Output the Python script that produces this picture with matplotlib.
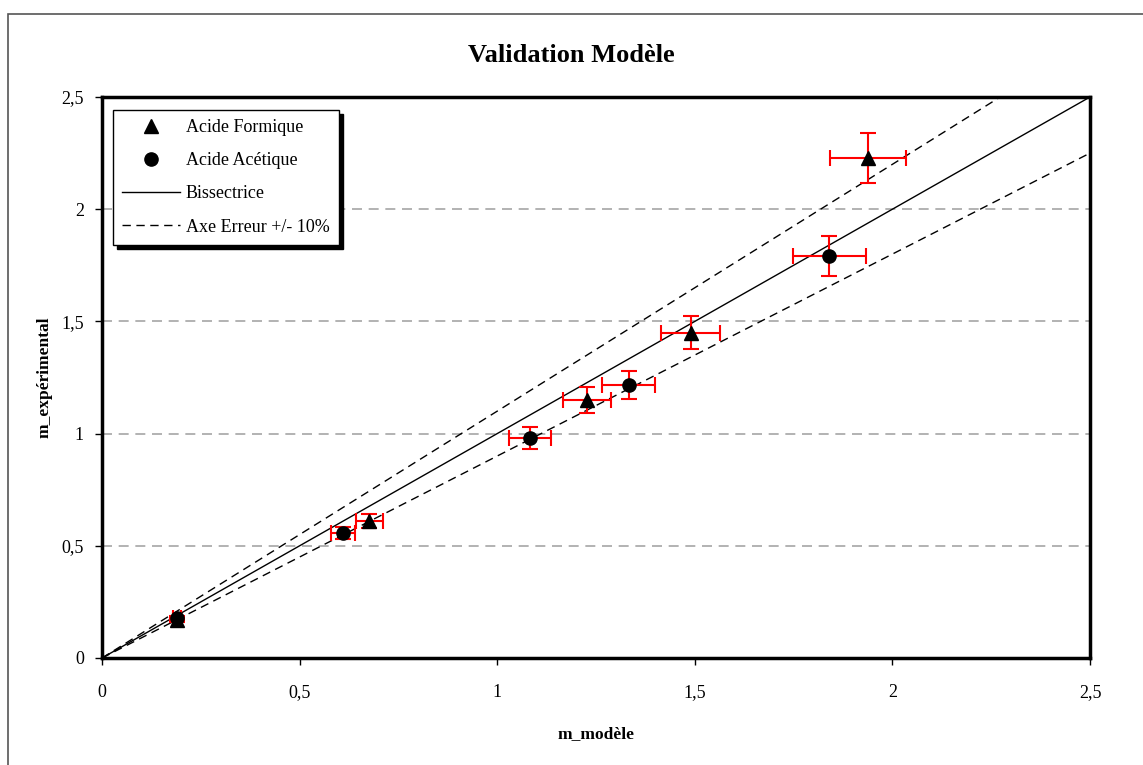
import numpy as np
import matplotlib
matplotlib.use('Agg')
import matplotlib.pyplot as plt
from matplotlib.patches import Rectangle

plt.rcParams['font.family'] = ['Liberation Serif', 'DejaVu Serif']

# data
m_mod_formique = [0.19, 0.676, 1.227, 1.49, 1.938]
m_exp_formique = [0.17, 0.61, 1.15, 1.45, 2.228]
m_mod_acetique = [0.19, 0.61, 1.083, 1.333, 1.84]
m_exp_acetique = [0.18, 0.557, 0.98, 1.217, 1.79]
err_rel = 0.05  # 5% error bars on both axes
ticks = [0, 0.5, 1, 1.5, 2, 2.5]
tick_labels = ['0', '0,5', '1', '1,5', '2', '2,5']

fig = plt.figure(figsize=(11.43, 7.65), dpi=100)
# outer chart border
fig.patches.append(Rectangle((8 / 1143, -0.01), 1.2, 1 - 14 / 765 + 0.01, transform=fig.transFigure,
                             fill=False, edgecolor='#555555', linewidth=1.2, zorder=0))
ax = fig.add_axes([102 / 1143, 1 - 658 / 765, 988 / 1143, 561 / 765])

for xs, ys in [(m_mod_formique, m_exp_formique), (m_mod_acetique, m_exp_acetique)]:
    xs = np.array(xs)
    ys = np.array(ys)
    ax.errorbar(xs, ys, xerr=xs * err_rel, yerr=ys * err_rel, fmt='none', ecolor='red',
                elinewidth=1.5, capsize=6, capthick=1.5, zorder=3)

ax.plot(m_mod_formique, m_exp_formique, '^', color='black', markersize=10, label='Acide Formique', zorder=4)
ax.plot(m_mod_acetique, m_exp_acetique, 'o', color='black', markersize=9.5, label='Acide Acétique', zorder=4)

xl = np.array([0, 2.5])
ax.plot(xl, xl, color='black', linewidth=1, label='Bissectrice', zorder=2)
ax.plot(xl, 1.1 * xl, color='black', linewidth=1, linestyle=(0, (6, 4)), label='Axe Erreur +/- 10%', zorder=2)
ax.plot(xl, 0.9 * xl, color='black', linewidth=1, linestyle=(0, (6, 4)), zorder=2)

for g in [0.5, 1, 1.5, 2]:
    ax.axhline(g, color='#a6a6a6', linewidth=1.2, linestyle=(0, (6, 4)), zorder=1)

ax.set_xlim(0, 2.5)
ax.set_ylim(0, 2.5)
ax.set_xticks(ticks)
ax.set_xticklabels(tick_labels)
ax.set_yticks(ticks)
ax.set_yticklabels(tick_labels)
ax.tick_params(direction='out', length=5, width=1, labelsize=13)
ax.tick_params(axis='x', pad=14)
ax.tick_params(axis='y', pad=8)
for s in ax.spines.values():
    s.set_linewidth(2.5)

ax.set_xlabel('m_modèle', fontsize=12.5, fontweight='bold', labelpad=18)
ax.set_ylabel('m_expérimental', fontsize=12.5, fontweight='bold', labelpad=6)
fig.text(0.5, 1 - 55 / 765, 'Validation Modèle', ha='center', va='center', fontsize=19, fontweight='bold')

leg = ax.legend(loc='upper left', bbox_to_anchor=(0.011, 0.977), borderaxespad=0, fancybox=False,
                shadow={'color': 'black', 'alpha': 1, 'ox': 3, 'oy': -3}, framealpha=1, edgecolor='black',
                fontsize=13, handlelength=3.2, handletextpad=0.35, labelspacing=0.9, borderpad=0.5)
leg.get_frame().set_linewidth(1)

plt.savefig('out.png', dpi=100)
